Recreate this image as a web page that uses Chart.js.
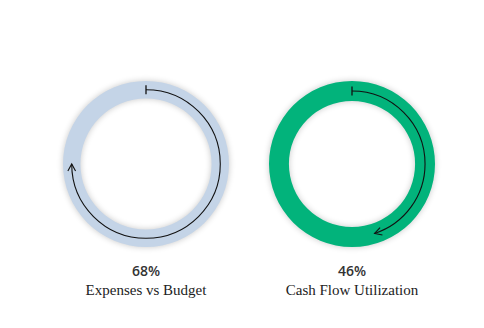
<!DOCTYPE html>
<html>
<head>
<meta charset="utf-8">
<script src="https://cdn.jsdelivr.net/npm/chart.js@4.4.1/dist/chart.umd.min.js"></script>
<style>
  html, body { margin: 0; padding: 0; background: #ffffff; }
  body { width: 484px; height: 328px; position: relative; overflow: hidden; }
  .box { position: absolute; width: 180px; height: 180px; }
  .box canvas { display: block; }
  .pct { position: absolute; width: 200px; text-align: center; font-family: "Open Sans", sans-serif; font-size: 14px; font-weight: 600; color: #333333; }
  .lbl { position: absolute; width: 200px; text-align: center; font-family: "Liberation Serif", serif; font-size: 15px; color: #222; }
</style>
</head>
<body>
<div class="box" id="b0" style="left:56px; top:74px;"><canvas id="c0"></canvas></div>
<div class="box" id="b1" style="left:262px; top:74px;"><canvas id="c1"></canvas></div>
<div class="pct" style="left:46px; top:261px;" id="p0"></div>
<div class="lbl" style="left:46px; top:282px;" id="l0"></div>
<div class="pct" style="left:252px; top:261px;" id="p1"></div>
<div class="lbl" style="left:252px; top:282px;" id="l1"></div>
<script>
// ---- data ----
const categories = ["Expenses vs Budget", "Cash Flow Utilization"];
const percentValues = [68, 46];
const arrowSweep = [75, 45];           // arrow extent, in % of the circle
const ringColors = ["#c4d4e7", "#02b37b"];

const ringShadow = {
  id: 'ringShadow',
  beforeDatasetDraw(chart) {
    const ctx = chart.ctx;
    ctx.save();
    ctx.shadowColor = 'rgba(0,0,0,0.22)';
    ctx.shadowBlur = 6;
    ctx.shadowOffsetX = 0;
    ctx.shadowOffsetY = 0;
  },
  afterDatasetDraw(chart) {
    chart.ctx.restore();
  }
};

const arrowPlugin = {
  id: 'arrowPlugin',
  afterDatasetsDraw(chart, args, opts) {
    const arc = chart.getDatasetMeta(0).data[0];
    if (!arc) return;
    const ctx = chart.ctx;
    const cx = arc.x, cy = arc.y;
    const r = (arc.outerRadius + arc.innerRadius) / 2;
    const a0 = -Math.PI / 2;
    const a1 = a0 + opts.sweep / 100 * Math.PI * 2;
    ctx.save();
    ctx.strokeStyle = '#111';
    ctx.lineWidth = 1.1;
    ctx.beginPath();
    ctx.arc(cx, cy, r, a0, a1, false);
    ctx.stroke();
    // start tick (radial)
    const sx = cx + r * Math.cos(a0), sy = cy + r * Math.sin(a0);
    ctx.lineWidth = 1.3;
    ctx.beginPath();
    ctx.moveTo(sx + 4.5 * Math.cos(a0), sy + 4.5 * Math.sin(a0));
    ctx.lineTo(sx - 4.5 * Math.cos(a0), sy - 4.5 * Math.sin(a0));
    ctx.stroke();
    // arrow head
    const ex = cx + r * Math.cos(a1), ey = cy + r * Math.sin(a1);
    const tang = a1 + Math.PI / 2; // clockwise direction
    const back = tang + Math.PI;
    const len = 8, spread = 0.5;
    ctx.lineWidth = 1.1;
    ctx.beginPath();
    ctx.moveTo(ex + len * Math.cos(back - spread), ey + len * Math.sin(back - spread));
    ctx.lineTo(ex, ey);
    ctx.lineTo(ex + len * Math.cos(back + spread), ey + len * Math.sin(back + spread));
    ctx.stroke();
    ctx.restore();
  }
};

categories.forEach((name, i) => {
  document.getElementById('p' + i).textContent = percentValues[i] + '%';
  document.getElementById('l' + i).textContent = name;
  new Chart(document.getElementById('c' + i), {
    type: 'doughnut',
    data: {
      labels: [name],
      datasets: [{
        data: [100],
        backgroundColor: [ringColors[i]],
        borderWidth: 0,
        hoverOffset: 0
      }]
    },
    options: {
      responsive: true,
      maintainAspectRatio: false,
      animation: false,
      cutout: i === 0 ? '79%' : '76%',
      layout: { padding: 7 },
      events: [],
      plugins: {
        legend: { display: false },
        tooltip: { enabled: false },
        arrowPlugin: { sweep: arrowSweep[i] }
      }
    },
    plugins: [ringShadow, arrowPlugin]
  });
});
</script>
</body>
</html>
